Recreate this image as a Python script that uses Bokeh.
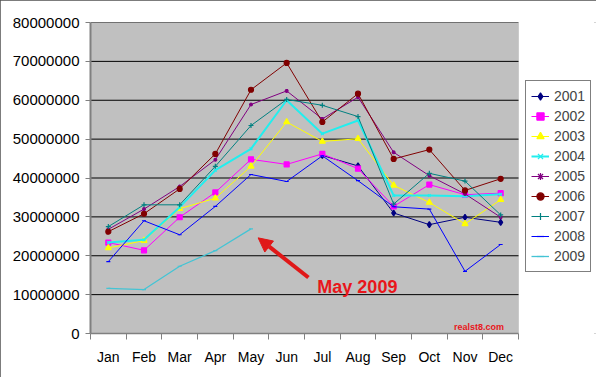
from bokeh.plotting import figure
from bokeh.models import (FixedTicker, Range1d, Legend, LegendItem, Arrow, NormalHead,
                          Label, PrintfTickFormatter, ColumnDataSource, BoxAnnotation)
from bokeh.embed import file_html
from bokeh.resources import INLINE

nan = float("nan")
months = ["Jan", "Feb", "Mar", "Apr", "May", "Jun", "Jul", "Aug", "Sep", "Oct", "Nov", "Dec"]
years = ["2001", "2002", "2003", "2004", "2005", "2006", "2007", "2008", "2009"]

y2001 = [nan, nan, nan, nan, nan, nan, 45800000, 43100000, 31000000, 28000000, 29900000, 28600000]
y2002 = [23400000, 21400000, 29900000, 36300000, 44800000, 43500000, 46200000, 42400000, 32700000, 38300000, 35700000, 36100000]
y2003 = [22000000, 23900000, 32100000, 34800000, 43000000, 54400000, 49400000, 50100000, 38100000, 33700000, 28200000, 34400000]
y2004 = [23400000, 24100000, 32500000, 42000000, 47500000, 60000000, 51400000, 54800000, 35500000, 35500000, 35300000, 35800000]
y2005 = [26800000, 32000000, 37800000, 44700000, 58900000, 62400000, 55200000, 60800000, 46600000, 40600000, 35900000, 29900000]
y2006 = [26200000, 30800000, 37200000, 46200000, 62700000, 69600000, 54400000, 61700000, 44900000, 47300000, 36800000, 39800000]
y2007 = [27500000, 33100000, 33100000, 43000000, 53500000, 60200000, 58700000, 55800000, 33300000, 41200000, 39200000, 30500000]
y2008 = [18500000, 29000000, 25400000, 32700000, 40900000, 39100000, 45700000, 39300000, 32600000, 32000000, 16000000, 22900000]
y2009 = [11600000, 11300000, 17300000, 21300000, 26900000, nan, nan, nan, nan, nan, nan, nan]

y_ticks = [0, 10000000, 20000000, 30000000, 40000000, 50000000, 60000000, 70000000, 80000000]

series = [y2001, y2002, y2003, y2004, y2005, y2006, y2007, y2008, y2009]
colors = ["#000080", "#FF00FF", "#FFFF00", "#22EEEE", "#800080", "#800000", "#008080", "#0000FF", "#44C4D4"]
markers = ["diamond", "square", "triangle", "x", "asterisk", "circle", "cross", "dash", "dash"]
msizes = [6, 5, 6, 4, 4, 5, 5, 4, 4]
lwidths = [1, 1, 1, 2, 1, 1, 1, 1, 1.3]

xs = list(range(1, len(months) + 1))
x_lo, x_hi = 0.5, len(months) + 0.5
y_lo, y_hi = y_ticks[0], y_ticks[-1]

# frame spans the plot area plus the legend strip on the right (506 px; plot area 428 px)
p = figure(width=596, height=377, output_backend="svg", toolbar_location=None,
           x_range=Range1d(x_lo, x_lo + 506 / (428 / 12)), y_range=Range1d(y_lo, y_hi),
           min_border_left=90, min_border_top=22, min_border_bottom=44, min_border_right=0)
p.background_fill_color = "white"
p.border_fill_color = "white"
p.outline_line_color = None
p.xgrid.grid_line_color = None
p.ygrid.grid_line_color = None
p.styles = {"outline": "2px solid #505050", "outline-offset": "-2px"}

plot_area = BoxAnnotation(left=x_lo, right=x_hi, bottom=y_lo, top=y_hi, fill_color="#C0C0C0",
                          fill_alpha=1, line_color="#A0A0A0", line_width=1, level="image")
p.add_layout(plot_area)
p.segment(x0=[x_lo] * len(y_ticks[1:]), x1=[x_hi] * len(y_ticks[1:]), y0=y_ticks[1:], y1=y_ticks[1:],
          line_color="black", line_width=1, level="underlay")

p.yaxis.ticker = FixedTicker(ticks=y_ticks)
p.yaxis.formatter = PrintfTickFormatter(format="%d")
p.yaxis.major_label_text_font = "Liberation Sans"
p.yaxis.major_label_text_font_size = "15px"
p.yaxis.major_label_text_color = "black"
p.yaxis.axis_line_color = "#808080"
p.yaxis.axis_line_width = 2
p.yaxis.major_tick_line_color = "#808080"
p.yaxis.major_tick_out = 5
p.yaxis.major_tick_in = 0
p.yaxis.minor_tick_line_color = None
p.yaxis.major_label_standoff = 6

p.xaxis.bounds = (x_lo, x_hi)
p.xaxis.ticker = FixedTicker(ticks=xs, minor_ticks=[i + 0.5 for i in range(0, 13)])
p.xaxis.major_label_overrides = {i: m for i, m in zip(xs, months)}
p.xaxis.major_label_text_font = "Liberation Sans"
p.xaxis.major_label_text_font_size = "14px"
p.xaxis.major_label_text_color = "black"
p.xaxis.axis_line_color = "#808080"
p.xaxis.axis_line_width = 1.5
p.xaxis.major_tick_line_color = None
p.xaxis.major_tick_out = 6
p.xaxis.minor_tick_line_color = "#808080"
p.xaxis.minor_tick_out = 6
p.xaxis.minor_tick_in = 0
p.xaxis.major_label_standoff = 9

items = []
for yr, ys, c, m, ms, lw in zip(years, series, colors, markers, msizes, lwidths):
    src = ColumnDataSource(dict(x=xs, y=ys))
    r1 = p.line("x", "y", source=src, line_color=c, line_width=lw)
    r2 = p.scatter("x", "y", source=src, marker=m, size=ms, fill_color=c, line_color=c, line_width=1.2)
    items.append(LegendItem(label=yr, renderers=[r1, r2]))

legend = Legend(items=items, location=(435, 61), label_text_font="Liberation Sans",
                label_text_font_size="14px", glyph_width=18, glyph_height=20, label_height=20,
                spacing=0, padding=5, margin=0, label_standoff=5,
                border_line_color="black", border_line_width=1, background_fill_color="white")
p.add_layout(legend, "center")

# annotation pointing at the May 2009 value
may_val = y2009[4]
arrow = Arrow(end=NormalHead(size=14, fill_color="#E01818", line_color="#E01818"),
              x_start=6.61, y_start=may_val - 12500000, x_end=5.2, y_end=may_val - 2300000,
              line_color="#E01818", line_width=4)
p.add_layout(arrow)
p.add_layout(Label(x=6.86, y=may_val - 15000000, text="May 2009", text_font="Liberation Sans",
                   text_font_size="18px", text_font_style="bold", text_color="#E8161B",
                   text_baseline="alphabetic"))
p.add_layout(Label(x=10.69, y=1800000, text="realst8.com", text_font="Liberation Sans",
                   text_font_size="9px", text_font_style="bold", text_color="#E8161B",
                   text_baseline="alphabetic"))

open("out.html", "w").write(file_html(p, INLINE))
